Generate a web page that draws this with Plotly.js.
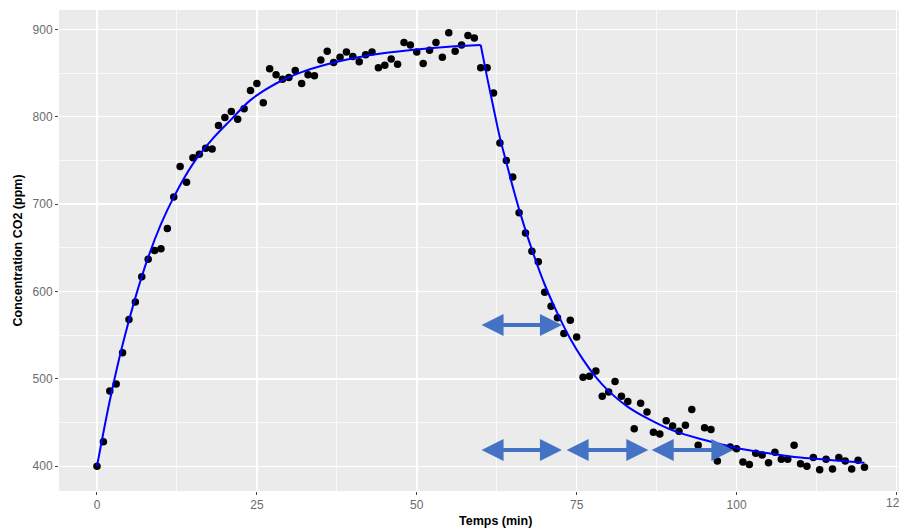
<!DOCTYPE html>
<html>
<head>
<meta charset="utf-8">
<script src="https://cdn.plot.ly/plotly-3.0.1.min.js"></script>
<style>html,body{margin:0;padding:0;background:#fff;}#chart{width:899px;height:530px;}</style>
</head>
<body>
<div id="chart"></div>
<script>
// Measured CO2 concentration (ppm), one sample per minute
const timeMin = [];
for (let i = 0; i <= 120; i++) timeMin.push(i);
const co2 = [
  400,428,486,494,530,568,588,617,637,647,
  649,672,708,743,725,753,757,764,763,790,
  799,806,797,809,830,838,816,855,848,843,
  845,853,838,848,847,865,875,862,868,874,
  869,863,871,874,856,859,866,860,885,882,
  874,861,876,885,868,896,875,882,893,890,
  856,856,827,770,750,731,690,667,646,634,
  599,583,570,552,567,548,502,503,509,480,
  485,497,480,474,443,472,462,439,437,452,
  446,440,447,465,424,444,442,406,421,422,
  420,405,402,415,413,404,416,408,408,424,
  403,400,410,396,408,397,410,406,397,407,
  399
];

// Fitted model curve: rise phase and decay phase
const riseT = [0,2,4,6,8,10,12,15,18,21,24,28,32,36,40,45,50,55,60];
const riseV = [400,475,539,593,639,677,708,746,774,797,819,838,851,860,867,873,877,880,882];
const decayT = [60,61,62,63,64,65,66,68,70,72,74,76,78,80,83,86,90,95,100,105,110,115,120];
const decayV = [882,845,810,776,748,720,694,648,608,575,546,522,502,486,468,455,441,430,421,415,410,407,404];

// Double-headed arrows (time constant marks)
const arrowFrom = [59.9, 59.9, 73.2, 86.5];
const arrowTo   = [72.7, 72.7, 86.2, 99.5];
const arrowY    = [561.7, 418.7, 418.7, 418.7];

// Axis ticks
const xTicks = [0, 25, 50, 75, 100, 125];
const yTicks = [400, 500, 600, 700, 800, 900];

const traces = [
  {x: timeMin, y: co2, type: 'scatter', mode: 'markers',
   marker: {color: '#000000', size: 7.5}, hoverinfo: 'x+y'},
  {x: riseT, y: riseV, type: 'scatter', mode: 'lines',
   line: {color: '#0000FF', width: 2, shape: 'spline', smoothing: 1}},
  {x: decayT, y: decayV, type: 'scatter', mode: 'lines',
   line: {color: '#0000FF', width: 2, shape: 'spline', smoothing: 1}}
];

const fontFam = 'Liberation Sans, Arial, sans-serif';
const tickFont = {family: fontFam, size: 12, color: '#6b6b6b'};

const annotations = arrowFrom.map((a, i) => ({
  x: arrowTo[i], y: arrowY[i], ax: a, ay: arrowY[i],
  xref: 'x', yref: 'y', axref: 'x', ayref: 'y',
  text: '', showarrow: true, arrowside: 'end+start',
  arrowhead: 2, arrowsize: 1.1, arrowwidth: 4, arrowcolor: '#4472C4',
  standoff: 0, startstandoff: 0
}));
// last x tick label, partly cut off at the right edge as in the original
annotations.push({
  text: String(xTicks[5]), xref: 'x', yref: 'paper', x: xTicks[5], y: 0,
  yshift: -12, xanchor: 'center', yanchor: 'middle', showarrow: false, font: tickFont
});
annotations.push({
  text: '<b>Temps (min)</b>', xref: 'paper', yref: 'paper',
  x: 0.52, y: 0, yshift: -30, xanchor: 'center', yanchor: 'middle',
  showarrow: false, font: {family: fontFam, size: 12.5, color: '#000'}
});
annotations.push({
  text: '<b>Concentration CO2 (ppm)</b>', xref: 'paper', yref: 'paper',
  x: 0, xshift: -42, y: 0.5, xanchor: 'center', yanchor: 'middle', textangle: -90,
  showarrow: false, font: {family: fontFam, size: 12.5, color: '#000'}
});

const layout = {
  width: 899, height: 530,
  margin: {l: 59, r: 0, t: 10, b: 39, pad: 0},
  paper_bgcolor: '#FFFFFF', plot_bgcolor: '#EBEBEB',
  showlegend: false,
  xaxis: {
    range: [-5.94, 125.4], tickvals: xTicks,
    ticks: 'outside', ticklen: 3, tickwidth: 1, tickcolor: '#444',
    tickfont: tickFont, showgrid: true, gridcolor: '#FFFFFF', gridwidth: 1.5,
    zeroline: false, showline: false,
    minor: {tick0: 0, dtick: 12.5, showgrid: true, gridcolor: '#FFFFFF', gridwidth: 0.7, ticks: ''}
  },
  yaxis: {
    range: [371.7, 922.1], tickvals: yTicks,
    ticks: 'outside', ticklen: 3, tickwidth: 1, tickcolor: '#444',
    tickfont: tickFont, showgrid: true, gridcolor: '#FFFFFF', gridwidth: 1.5,
    zeroline: false, showline: false,
    minor: {tick0: 0, dtick: 50, showgrid: true, gridcolor: '#FFFFFF', gridwidth: 0.7, ticks: ''}
  },
  annotations: annotations
};

Plotly.newPlot('chart', traces, layout, {staticPlot: true, displayModeBar: false});
</script>
</body>
</html>
